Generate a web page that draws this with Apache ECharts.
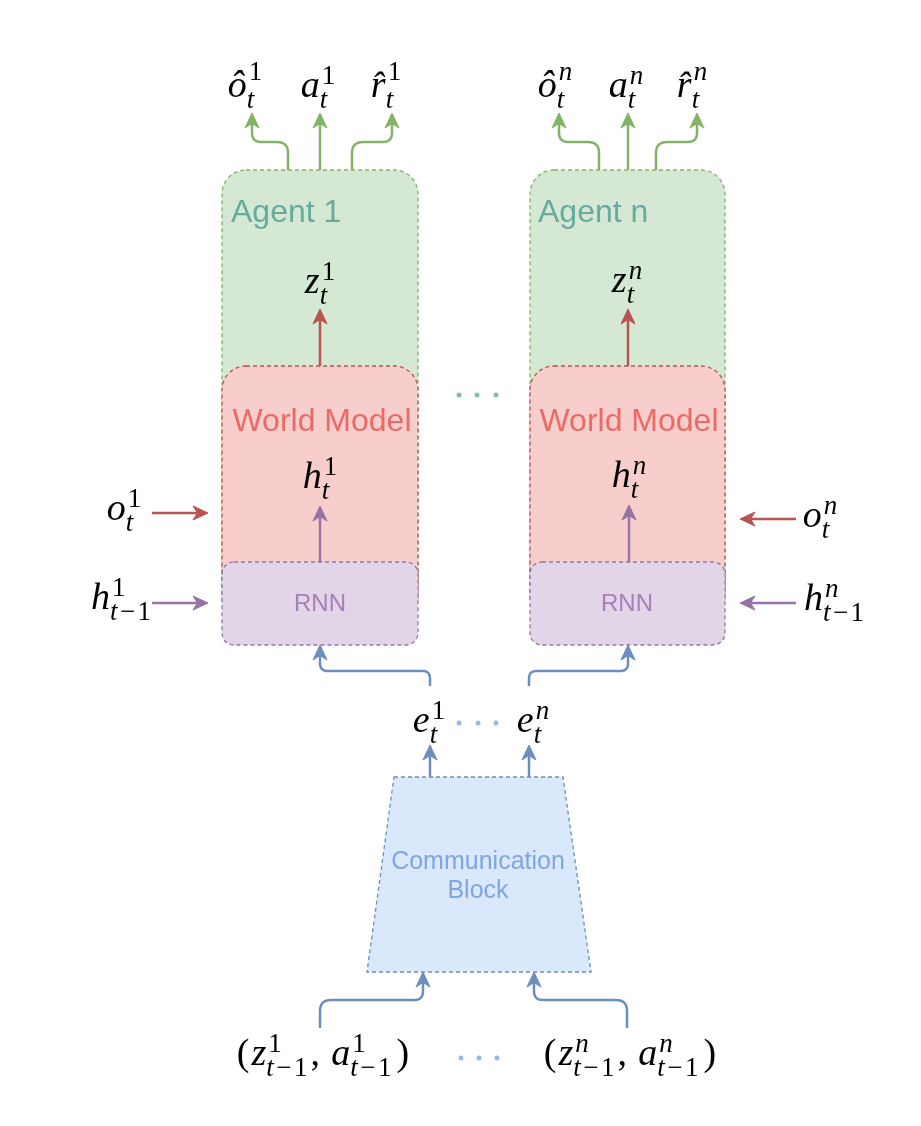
<!DOCTYPE html>
<html>
<head>
<meta charset="utf-8">
<title>Agents, world models and communication block</title>
<script src="https://cdn.jsdelivr.net/npm/echarts@6.0.0/dist/echarts.min.js"></script>
<style>
html, body { margin: 0; padding: 0; background: #fff; }
#container { width: 921px; height: 1126px; }
</style>
</head>
<body>
<div id="container"></div>
<script>
// diagram space is the picture's pixel grid: x 0..921, y 0..1126 (down)

// boxes: x1, y1, x2, y2, corner radius
var boxKinds = ['agent', 'world', 'rnn', 'agent', 'world', 'rnn'];
var boxRects = [
	[222, 170, 418, 600, 24],
	[222, 366, 418, 620, 24],
	[222, 562, 418, 645, 12],
	[530, 170, 725, 600, 24],
	[530, 366, 725, 620, 24],
	[530, 562, 725, 645, 12]
];
// communication block (trapezoid corners)
var commBlock = [[394, 777], [563, 777], [591, 972], [367, 972]];

// box captions
var captionKinds = ['agent', 'world', 'rnn', 'agent', 'world', 'rnn', 'comm', 'comm'];
var captionTexts = ['Agent 1', 'World Model', 'RNN', 'Agent n', 'World Model', 'RNN', 'Communication', 'Block'];
var captionPos = [[231, 213], [322, 422], [320, 604], [538, 213], [629, 422], [627, 604], [478, 862], [478, 891]];
var captionAlign = ['left', 'center', 'center', 'left', 'center', 'center', 'center', 'center'];

// arrows: polyline points, head at the last point
var arrowKinds = [
	'green', 'green', 'green', 'green', 'green', 'green',
	'red', 'red', 'purple', 'purple',
	'red', 'purple', 'red', 'purple',
	'blue', 'blue', 'blue', 'blue', 'blue', 'blue'
];
var arrowPaths = [
	[[288, 170], [288, 142], [252, 142], [252, 113]],
	[[320, 170], [320, 113]],
	[[352, 170], [352, 142], [392, 142], [392, 113]],
	[[599, 170], [599, 142], [559, 142], [559, 113]],
	[[628, 170], [628, 113]],
	[[656, 170], [656, 142], [697, 142], [697, 113]],
	[[320, 366], [320, 309]],
	[[628, 366], [628, 309]],
	[[320, 562], [320, 506]],
	[[629, 562], [629, 505]],
	[[152, 513], [208, 513]],
	[[152, 603], [208, 603]],
	[[796, 519], [740, 519]],
	[[796, 603], [740, 603]],
	[[430, 686], [430, 671], [320, 671], [320, 645]],
	[[529, 686], [529, 671], [628, 671], [628, 645]],
	[[430, 777], [430, 745]],
	[[529, 777], [529, 745]],
	[[320, 1028], [320, 1000], [423, 1000], [423, 972]],
	[[627, 1028], [627, 1000], [534, 1000], [534, 972]]
];

// math labels (small TeX subset) and their centre x / baseline y
var mathTex = [
	'\\hat{o}_t^1', 'a_t^1', '\\hat{r}_t^1', '\\hat{o}_t^n', 'a_t^n', '\\hat{r}_t^n',
	'z_t^1', 'z_t^n', 'h_t^1', 'h_t^n',
	'o_t^1', 'o_t^n', 'h_{t-1}^1', 'h_{t-1}^n',
	'e_t^1', 'e_t^n',
	'(z_{t-1}^1,a_{t-1}^1)', '(z_{t-1}^n,a_{t-1}^n)'
];
var mathPos = [
	[245, 97], [318, 97], [386, 97], [555, 97], [626, 97], [692, 97],
	[320, 293], [627, 292], [320, 488], [629, 487],
	[124, 520], [820, 527], [121, 609], [834, 610],
	[429, 732], [533, 732],
	[323, 1065], [630, 1065]
];

// ellipsis dots
var dotsTeal = [[459, 395], [477, 395], [496, 395]];
var dotsBlue = [[459, 723], [478, 723], [496, 723], [461, 1058], [479, 1058], [497, 1058]];

var palette = {
	agent: { fill: '#d5e8d4', stroke: '#82b366', text: '#67ab9f', size: 32 },
	world: { fill: '#f8cecc', stroke: '#b85450', text: '#ea6b66', size: 32 },
	rnn: { fill: '#e1d5e7', stroke: '#9673a6', text: '#a680b8', size: 24 },
	comm: { fill: '#dae8fc', stroke: '#6c8ebf', text: '#7ea6e0', size: 25 },
	green: '#82b366', red: '#b85450', purple: '#9673a6', blue: '#6c8ebf'
};

var SANS = 'Liberation Sans';
var SERIF = 'Liberation Serif';
var BASE = 38, SCRIPT = 27;
var SUP_RISE = 13, SUP_RISE_HAT = 17, SUB_DROP = 11;
var SCRIPT_PAD = 3, MINUS_PAD = 2.5, COMMA_SPACE = 0.3, PAREN_PAD = 2;

var measureCtx = document.createElement('canvas').getContext('2d');
function cssFont(size, italic) {
	return (italic ? 'italic ' : '') + size + 'px "' + SERIF + '"';
}
function textWidth(s, size, italic) {
	measureCtx.font = cssFont(size, italic);
	return measureCtx.measureText(s).width;
}
// distance from the em middle down to the alphabetic baseline
function middleToBaseline(size) {
	measureCtx.font = cssFont(size, false);
	measureCtx.textBaseline = 'middle';
	var d = measureCtx.measureText('x').actualBoundingBoxDescent;
	measureCtx.textBaseline = 'alphabetic';
	return (typeof d === 'number' && !isNaN(d)) ? d : size * 0.3;
}

function parseTex(s) {
	var toks = [], i = 0;
	function group() {
		if (s[i] === '{') {
			var j = s.indexOf('}', i);
			var g = s.slice(i + 1, j);
			i = j + 1;
			return g;
		}
		return s[i++];
	}
	while (i < s.length) {
		var tok = { b: '', sup: '', sub: '', hat: false };
		if (s.substr(i, 5) === '\\hat{') {
			tok.hat = true;
			tok.b = s[i + 5];
			i += 7;
		} else {
			tok.b = s[i++];
		}
		while (s[i] === '_' || s[i] === '^') {
			var c = s[i++];
			var g = group();
			if (c === '_') tok.sub = g; else tok.sup = g;
		}
		toks.push(tok);
	}
	return toks;
}

// lay a string out char by char: letters italic, the rest upright
function runPieces(str, size) {
	var out = [], x = 0;
	for (var i = 0; i < str.length; i++) {
		var ch = str[i] === '-' ? '\u2212' : str[i];
		var it = /[a-z]/.test(ch);
		if (ch === '\u2212') x += MINUS_PAD;
		if (ch === ')') x += PAREN_PAD;
		out.push({ ch: ch, x: x, italic: it, size: size });
		x += textWidth(ch, size, it);
		if (ch === '\u2212') x += MINUS_PAD;
		if (ch === '(') x += PAREN_PAD;
		if (ch === ',') x += size * COMMA_SPACE;
	}
	return { pieces: out, width: x };
}

function layoutMath(tex) {
	var toks = parseTex(tex);
	var items = [], x = 0;
	toks.forEach(function (t, ti) {
		var base = runPieces(t.b, BASE);
		if (t.hat) base.pieces[0].ch = t.b + '\u0302';
		base.pieces.forEach(function (p) { items.push({ ch: p.ch, x: x + p.x, dy: 0, italic: p.italic, size: BASE }); });
		x += base.width;
		var w = 0;
		if (t.sup) {
			var sp = runPieces(t.sup, SCRIPT);
			var kern = base.pieces[0].italic ? 2 : 0;
			var rise = t.hat ? SUP_RISE_HAT : SUP_RISE;
			sp.pieces.forEach(function (p) { items.push({ ch: p.ch, x: x + kern + p.x, dy: -rise, italic: p.italic, size: SCRIPT }); });
			w = Math.max(w, sp.width + kern);
		}
		if (t.sub) {
			var sb = runPieces(t.sub, SCRIPT);
			sb.pieces.forEach(function (p) { items.push({ ch: p.ch, x: x + p.x, dy: SUB_DROP, italic: p.italic, size: SCRIPT }); });
			w = Math.max(w, sb.width);
		}
		x += w;
		if (w > 0 && ti < toks.length - 1) x += SCRIPT_PAD;
	});
	return { items: items, width: x };
}

var mathLayouts = mathTex.map(layoutMath);
var midOff = {};
midOff[BASE] = middleToBaseline(BASE);
midOff[SCRIPT] = middleToBaseline(SCRIPT);

function sub2(a, b) { return [a[0] - b[0], a[1] - b[1]]; }
function unit(v) { var l = Math.sqrt(v[0] * v[0] + v[1] * v[1]) || 1; return [v[0] / l, v[1] / l]; }
function dist(a, b) { var v = sub2(a, b); return Math.sqrt(v[0] * v[0] + v[1] * v[1]); }

function roundedPolyline(pts, r) {
	var out = [pts[0]];
	for (var i = 1; i < pts.length - 1; i++) {
		var a = pts[i - 1], c = pts[i], b = pts[i + 1];
		var d1 = unit(sub2(c, a)), d2 = unit(sub2(b, c));
		var rr = Math.min(r, dist(a, c) / 2, dist(b, c) / 2);
		var s = [c[0] - d1[0] * rr, c[1] - d1[1] * rr];
		var e = [c[0] + d2[0] * rr, c[1] + d2[1] * rr];
		for (var k = 0; k <= 8; k++) {
			var t = k / 8, u = 1 - t;
			out.push([
				u * u * s[0] + 2 * u * t * c[0] + t * t * e[0],
				u * u * s[1] + 2 * u * t * c[1] + t * t * e[1]
			]);
		}
	}
	out.push(pts[pts.length - 1]);
	return out;
}

function renderBox(params, api) {
	var p1 = api.coord([api.value(0), api.value(1)]);
	var p2 = api.coord([api.value(2), api.value(3)]);
	var k = palette[boxKinds[params.dataIndex]];
	return {
		type: 'rect',
		shape: { x: p1[0], y: p1[1], width: p2[0] - p1[0], height: p2[1] - p1[1], r: api.value(4) },
		style: { fill: k.fill, stroke: k.stroke, lineWidth: 1.3, lineDash: [4, 3] }
	};
}

function renderComm(params, api) {
	var pts = commBlock.map(function (p) { return api.coord(p); });
	return {
		type: 'polygon',
		shape: { points: pts },
		style: { fill: palette.comm.fill, stroke: palette.comm.stroke, lineWidth: 1.3, lineDash: [4, 3] }
	};
}

function renderCaption(params, api) {
	var i = params.dataIndex;
	var p = api.coord(captionPos[i]);
	var k = palette[captionKinds[i]];
	return {
		type: 'text',
		style: {
			text: captionTexts[i], x: p[0], y: p[1],
			fill: k.text, fontFamily: SANS, fontSize: k.size,
			align: captionAlign[i], verticalAlign: 'middle'
		}
	};
}

function renderArrow(params, api) {
	var i = params.dataIndex;
	var color = palette[arrowKinds[i]];
	var pts = arrowPaths[i].map(function (p) { return api.coord(p); });
	var tip = pts[pts.length - 1];
	var dir = unit(sub2(tip, pts[pts.length - 2]));
	var nrm = [-dir[1], dir[0]];
	var L = 15, W = 7, notch = L * 0.7;
	var back = [tip[0] - dir[0] * L, tip[1] - dir[1] * L];
	var inner = [tip[0] - dir[0] * notch, tip[1] - dir[1] * notch];
	var linePts = pts.slice(0, -1).concat([inner]);
	return {
		type: 'group',
		children: [{
			type: 'polyline',
			shape: { points: roundedPolyline(linePts, 11) },
			style: { stroke: color, lineWidth: 2.5, fill: null, lineJoin: 'round' }
		}, {
			type: 'polygon',
			shape: {
				points: [
					tip,
					[back[0] + nrm[0] * W, back[1] + nrm[1] * W],
					inner,
					[back[0] - nrm[0] * W, back[1] - nrm[1] * W]
				]
			},
			style: { fill: color, stroke: color, lineWidth: 1, lineJoin: 'miter' }
		}]
	};
}

function renderMath(params, api) {
	var i = params.dataIndex;
	var lay = mathLayouts[i];
	var p = api.coord(mathPos[i]);
	var x0 = p[0] - lay.width / 2;
	return {
		type: 'group',
		children: lay.items.map(function (it) {
			return {
				type: 'text',
				style: {
					text: it.ch,
					x: x0 + it.x,
					y: p[1] + it.dy - midOff[it.size],
					fill: '#000',
					fontFamily: SERIF,
					fontSize: it.size,
					fontStyle: it.italic ? 'italic' : 'normal',
					align: 'left', verticalAlign: 'middle'
				}
			};
		})
	};
}

function indexData(arr) {
	return arr.map(function (d, i) { return [i, 0]; });
}

var dom = document.getElementById('container');
var myChart = echarts.init(dom, null, { renderer: 'canvas' });
var option = {
	backgroundColor: '#fff',
	animation: false,
	grid: { left: 0, right: 0, top: 0, bottom: 0 },
	xAxis: { type: 'value', min: 0, max: 921, show: false },
	yAxis: { type: 'value', min: 0, max: 1126, inverse: true, show: false },
	series: [{
		type: 'custom', name: 'boxes', renderItem: renderBox, data: boxRects, silent: true, z: 1
	}, {
		type: 'custom', name: 'communication', renderItem: renderComm, data: [[0, 0]], silent: true, z: 1
	}, {
		type: 'custom', name: 'arrows', renderItem: renderArrow, data: indexData(arrowPaths), silent: true, z: 2
	}, {
		type: 'custom', name: 'captions', renderItem: renderCaption, data: indexData(captionTexts), silent: true, z: 3
	}, {
		type: 'custom', name: 'math', renderItem: renderMath, data: indexData(mathTex), silent: true, z: 3
	}, {
		type: 'scatter', name: 'dots teal', data: dotsTeal, symbolSize: 5,
		itemStyle: { color: '#67ab9f' }, silent: true, z: 3
	}, {
		type: 'scatter', name: 'dots blue', data: dotsBlue, symbolSize: 5,
		itemStyle: { color: '#7ea6e0' }, silent: true, z: 3
	}]
};
myChart.setOption(option, true);
</script>
</body>
</html>
